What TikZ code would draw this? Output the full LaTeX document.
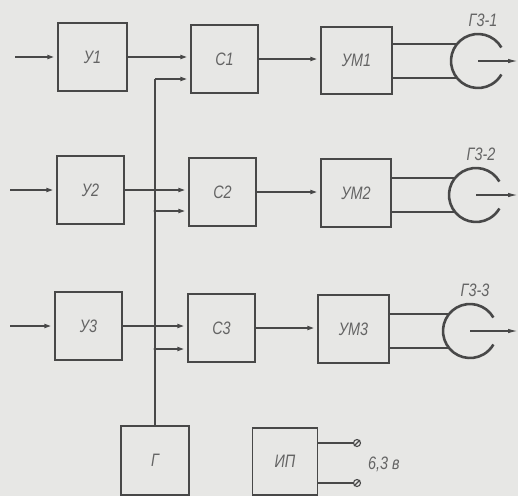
\documentclass[tikz,border=0pt]{standalone}
\usepackage{fontspec}
\setmainfont{Liberation Sans}
\usetikzlibrary{arrows.meta,calc}
\definecolor{bg}{RGB}{231,231,229}
\definecolor{ink}{RGB}{72,72,72}
\definecolor{txt}{RGB}{100,100,100}
\newcommand{\gostt}[1]{\scalebox{0.8}[1]{#1}}
\tikzset{
  blk/.style={draw=ink,line width=1.1pt,minimum width=68pt,minimum height=68pt,inner sep=0pt,
    font=\fontsize{18}{20}\selectfont\itshape,text=txt},
  arr/.style={draw=ink,line width=2pt,-{Latex[length=10pt,width=4.5pt]}},
  wire/.style={draw=ink,line width=2pt},
  emit/.style={circle,minimum size=54pt,inner sep=0pt},
  ring/.style={draw=ink,line width=2.6pt},
  lbl/.style={font=\fontsize{18}{20}\selectfont\itshape,text=txt,inner sep=0pt},
  term/.style={circle,draw=ink,line width=1.1pt,minimum size=7pt,inner sep=0pt},
  dot/.style={circle,fill=ink,minimum size=3.4pt,inner sep=0pt}
}
\begin{document}
\begin{tikzpicture}[x=1pt,y=-1pt]
\useasboundingbox[fill=bg] (0,0) rectangle (518,496);
% blocks
\node[blk,minimum width=69pt] (u1) at (92.5,57) {\gostt{У1}};
\node[blk,minimum width=67pt] (u2) at (90.5,190) {\gostt{У2}};
\node[blk,minimum width=67pt] (u3) at (88.5,326) {\gostt{У3}};
\node[blk,minimum width=67pt] (c1) at (224.5,59) {\gostt{С1}};
\node[blk,minimum width=67pt] (c2) at (222.5,192) {\gostt{С2}};
\node[blk,minimum width=67pt] (c3) at (221.5,328) {\gostt{С3}};
\node[blk,minimum width=71pt,minimum height=67pt] (m1) at (356.5,60.5) {\gostt{УМ1}};
\node[blk,minimum width=70pt] (m2) at (356,193) {\gostt{УМ2}};
\node[blk,minimum width=71pt] (m3) at (353.5,329) {\gostt{УМ3}};
\node[blk,minimum height=69pt] (g) at (155,460.5) {\gostt{Г}};
\node[blk,minimum width=65pt,minimum height=67pt] (ip) at (285,461.5) {\gostt{ИП}};
% emitters
\node[emit] (e1) at (478,61) {};
\node[emit] (e2) at (476,195) {};
\node[emit] (e3) at (470,331) {};
\foreach \e/\n in {e1/1,e2/2,e3/3}{
  \draw[ring] (\e.center) ++(30:27pt) arc[start angle=30,end angle=330,radius=27pt];
  \node[lbl] (l\n) at ($(\e.center)+(5,-41)$) {\gostt{Г3-\n}};
}
% inputs
\coordinate (in1) at (15,57);
\coordinate (in2) at (10,190);
\coordinate (in3) at (10,326);
\draw[arr] (in1) -- (in1 -| u1.west);
\draw[arr] (in2) -- (in2 -| u2.west);
\draw[arr] (in3) -- (in3 -| u3.west);
% U -> C
\draw[arr] (u1.east) -- (u1.east -| c1.west);
\draw[arr] (u2.east) -- (u2.east -| c2.west);
\draw[arr] (u3.east) -- (u3.east -| c3.west);
% bus from generator
\coordinate (b1) at (155,79);
\coordinate (b2) at (155,211);
\coordinate (b3) at (155,349);
\draw[wire] (g.north) -- (b1);
\draw[arr] (b1) -- (b1 -| c1.west);
\draw[arr] (b2) -- (b2 -| c2.west);
\draw[arr] (b3) -- (b3 -| c3.west);
\node[dot] (d2) at (b2) {};
\node[dot] (d3) at (b3) {};
% C -> UM
\draw[arr] (c1.east) -- (c1.east -| m1.west);
\draw[arr] (c2.east) -- (c2.east -| m2.west);
\draw[arr] (c3.east) -- (c3.east -| m3.west);
% UM -> emitters
\foreach \m/\e in {m1/e1,m2/e2,m3/e3}{
  \draw[wire] (\e.140) -- (\e.140 -| \m.east);
  \draw[wire] (\e.220) -- (\e.220 -| \m.east);
}
% emitter outputs
\coordinate (o1) at (518,61);
\coordinate (o2) at (518,195);
\coordinate (o3) at (518,331);
\draw[draw=ink,line width=1.4pt,-{Latex[length=10pt,width=4.5pt]}] (e1.center) -- (o1);
\draw[draw=ink,line width=1.4pt,-{Latex[length=10pt,width=4.5pt]}] (e2.center) -- (o2);
\draw[draw=ink,line width=1.4pt,-{Latex[length=10pt,width=4.5pt]}] (e3.center) -- (o3);
% power supply terminals
\node[term] (t1) at (357,443) {};
\node[term] (t2) at (357,483) {};
\draw[ink,line width=1.1pt] (t1.south west) -- (t1.north east);
\draw[ink,line width=1.1pt] (t2.south west) -- (t2.north east);
\draw[wire] (t1.west) -- (t1.west -| ip.east);
\draw[wire] (t2.west) -- (t2.west -| ip.east);
\node[lbl] (v) at (384,464) {\gostt{6,3 в}};
\end{tikzpicture}
\end{document}
